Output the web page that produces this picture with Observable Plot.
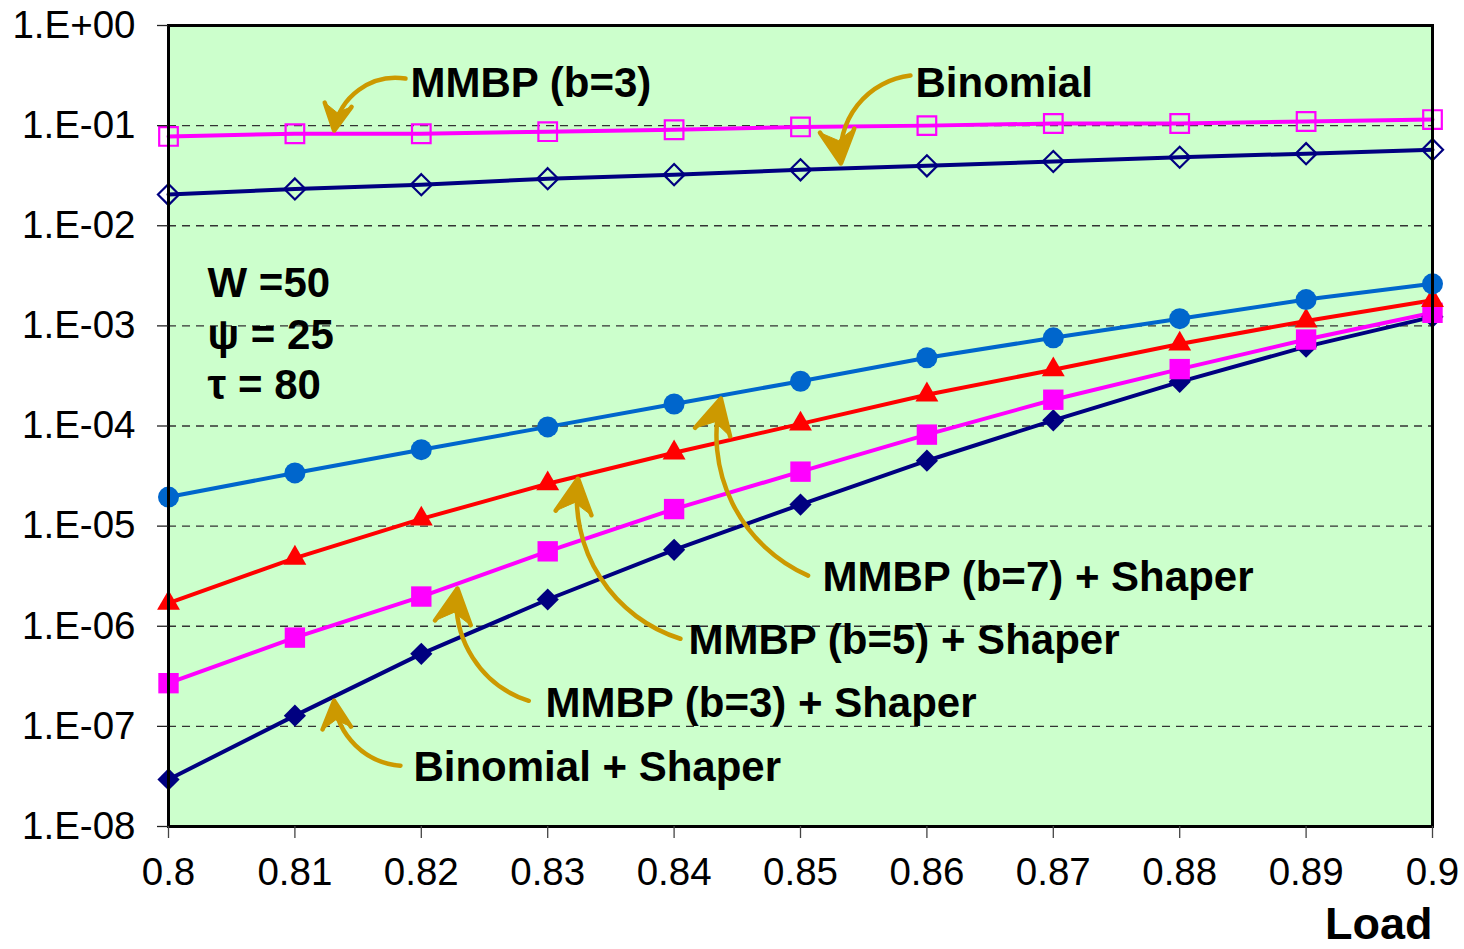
<!DOCTYPE html>
<html>
<head>
<meta charset="utf-8">
<script src="https://cdn.jsdelivr.net/npm/d3@7"></script>
<script src="https://cdn.jsdelivr.net/npm/@observablehq/plot@0.6"></script>
<style>
  html, body { margin: 0; padding: 0; background: white; }
  #chart { width: 1464px; height: 949px; overflow: hidden; }
</style>
</head>
<body>
<div id="chart"></div>
<script>
// ---- data ----
const loads = [0.8, 0.81, 0.82, 0.83, 0.84, 0.85, 0.86, 0.87, 0.88, 0.89, 0.9];
const mmbp3 = [0.078, 0.083, 0.083, 0.087, 0.091, 0.097, 0.1, 0.105, 0.105, 0.11, 0.115];
const binomial = [0.0205, 0.0233, 0.0257, 0.0295, 0.0324, 0.0362, 0.0397, 0.0438, 0.0483, 0.0525, 0.0575];
const mmbp7Shaper = [1.95e-5, 3.4e-5, 5.8e-5, 9.8e-5, 1.66e-4, 2.8e-4, 4.8e-4, 7.6e-4, 1.18e-3, 1.83e-3, 2.63e-3];
const mmbp5Shaper = [1.7e-6, 4.8e-6, 1.18e-5, 2.65e-5, 5.4e-5, 1.05e-4, 2.05e-4, 3.65e-4, 6.6e-4, 1.12e-3, 1.8e-3];
const mmbp3Shaper = [2.7e-7, 7.7e-7, 1.98e-6, 5.6e-6, 1.48e-5, 3.5e-5, 8.2e-5, 1.83e-4, 3.7e-4, 7.3e-4, 1.35e-3];
const binomialShaper = [2.95e-8, 1.28e-7, 5.3e-7, 1.85e-6, 5.8e-6, 1.64e-5, 4.5e-5, 1.14e-4, 2.76e-4, 6.2e-4, 1.23e-3];

const yTicks = [1, 1e-1, 1e-2, 1e-3, 1e-4, 1e-5, 1e-6, 1e-7, 1e-8];
const gridValues = [1e-1, 1e-2, 1e-3, 1e-4, 1e-5, 1e-6, 1e-7];

// annotation labels (x = load, y = value)
const labelTexts = ["MMBP (b=3)", "Binomial", "MMBP (b=7) + Shaper", "MMBP (b=5) + Shaper", "MMBP (b=3) + Shaper", "Binomial + Shaper"];
const labelX = [0.81915, 0.8591, 0.85174, 0.84114, 0.82983, 0.81938];
const labelY = [0.2634, 0.2634, 3.06e-6, 7.18e-7, 1.69e-7, 3.87e-8];

// parameter text block
const paramTexts = ["W =50", "ψ = 25", "τ = 80"];
const paramX = [0.80309, 0.80309, 0.80309];
const paramY = [2.65e-3, 8.0e-4, 2.53e-4];

// annotation arrows: start (x1,y1) -> tip (x2,y2), bend in degrees
const arrowX1 = [0.81875, 0.8587, 0.8506, 0.8405, 0.8285, 0.81835];
const arrowY1 = [0.295, 0.316, 3.2e-6, 7.5e-7, 1.8e-7, 4.05e-8];
const arrowX2 = [0.8131, 0.8532, 0.8437, 0.8324, 0.82286, 0.8131];
const arrowY2 = [0.0893, 0.0418, 1.88e-4, 2.98e-5, 2.38e-6, 1.8e-7];
const arrowBend = [-45, -45, 40, 40, 40, 40];

// ---- build tables ----
const seriesDefs = [
  {name: "Binomial + Shaper", values: binomialShaper, color: "#000080", symbol: "diamond2", r: 10, fill: true},
  {name: "MMBP (b=3) + Shaper", values: mmbp3Shaper, color: "#FF00FF", symbol: "square", r: 11.5, fill: true},
  {name: "MMBP (b=5) + Shaper", values: mmbp5Shaper, color: "#FF0000", symbol: "triangle", r: 8.5, fill: true},
  {name: "MMBP (b=7) + Shaper", values: mmbp7Shaper, color: "#0066CC", symbol: "circle", r: 10.5, fill: true},
  {name: "Binomial", values: binomial, color: "#000080", symbol: "diamond2", r: 9.5, fill: false},
  {name: "MMBP (b=3)", values: mmbp3, color: "#FF00FF", symbol: "square", r: 10.5, fill: false}
];

const labels = labelTexts.map((t, i) => ({t, x: labelX[i], y: labelY[i]}));
const params = paramTexts.map((t, i) => ({t, x: paramX[i], y: paramY[i]}));
const arrows = arrowX1.map((x1, i) => ({x1, y1: arrowY1[i], x2: arrowX2[i], y2: arrowY2[i], bend: arrowBend[i]}));

const expFmt = d => {
  const e = Math.round(Math.log10(d));
  return "1.E" + (e >= 0 ? "+" : "-") + String(Math.abs(e)).padStart(2, "0");
};

const ARROW_COLOR = "#CC9900";

const marks = [
  Plot.frame({fill: "#CCFFCC", stroke: "none"}),
  Plot.ruleY(gridValues, {stroke: "#333", strokeWidth: 1.3, strokeDasharray: "8,6"})
];

for (const s of seriesDefs) {
  const data = loads.map((x, i) => ({x, y: s.values[i]}));
  marks.push(Plot.line(data, {x: "x", y: "y", stroke: s.color, strokeWidth: 4}));
}
for (const s of seriesDefs) {
  const data = loads.map((x, i) => ({x, y: s.values[i]}));
  marks.push(Plot.dot(data, {
    x: "x", y: "y", symbol: s.symbol, r: s.r,
    fill: s.fill ? s.color : "none",
    stroke: s.fill ? "none" : s.color,
    strokeWidth: s.fill ? 0 : 2.2
  }));
}

for (const a of arrows) {
  marks.push(Plot.arrow([a], {
    x1: "x1", y1: "y1", x2: "x2", y2: "y2",
    bend: a.bend, stroke: ARROW_COLOR, strokeWidth: 4.5,
    headLength: 13, headAngle: 55
  }));
}

marks.push(
  Plot.text(labels, {x: "x", y: "y", text: "t", textAnchor: "start", lineAnchor: "middle",
    fontSize: 42, fontWeight: "bold", fill: "black"}),
  Plot.text(params, {x: "x", y: "y", text: "t", textAnchor: "start", lineAnchor: "middle",
    fontSize: 42, fontWeight: "bold", fill: "black"}),
  Plot.frame({stroke: "black", strokeWidth: 3}),
  Plot.axisY({ticks: yTicks, tickFormat: expFmt, tickSize: 11, tickPadding: 22,
    fontSize: 38.5, stroke: "#222", strokeWidth: 1.3, label: null}),
  Plot.axisX({ticks: loads, tickFormat: d => String(+d.toFixed(2)), tickSize: 12, tickPadding: 19,
    fontSize: 38.5, stroke: "#444", strokeWidth: 1.3, label: null}),
  Plot.text(["Load"], {frameAnchor: "bottom-right", dy: 98, textAnchor: "end", lineAnchor: "middle",
    fontSize: 45, fontWeight: "bold", fill: "black"})
);

const chart = Plot.plot({
  width: 1464,
  height: 949,
  marginLeft: 168,
  marginRight: 32,
  marginTop: 25,
  marginBottom: 123,
  style: {fontFamily: "'Liberation Sans', Arial, sans-serif", background: "white", color: "black", overflow: "visible"},
  x: {domain: [0.8, 0.9]},
  y: {type: "log", domain: [1e-8, 1]},
  marks
});

// fill the arrowheads drawn by Plot.arrow (turn the open chevron into a solid barbed head)
try {
  chart.querySelectorAll('g[aria-label="arrow"] path').forEach(p => {
    const d = p.getAttribute("d") || "";
    const idx = d.lastIndexOf("M");
    if (idx <= 0) return;
    const nums = d.slice(idx).match(/-?\d*\.?\d+(?:e[-+]?\d+)?/gi);
    if (!nums || nums.length < 6) return;
    const [hx1, hy1, tx, ty, hx2, hy2] = nums.slice(0, 6).map(Number);
    const mx = (hx1 + hx2) / 2, my = (hy1 + hy2) / 2;
    const nx = tx + (mx - tx) * 0.7, ny = ty + (my - ty) * 0.7;
    const head = document.createElementNS("http://www.w3.org/2000/svg", "path");
    head.setAttribute("d", `M${hx1},${hy1}L${tx},${ty}L${hx2},${hy2}L${nx},${ny}Z`);
    head.setAttribute("fill", ARROW_COLOR);
    head.setAttribute("stroke", ARROW_COLOR);
    head.setAttribute("stroke-width", "1");
    head.setAttribute("stroke-linejoin", "miter");
    p.parentNode.insertBefore(head, p.nextSibling);
  });
} catch (e) {}

document.getElementById("chart").appendChild(chart);
</script>
</body>
</html>
